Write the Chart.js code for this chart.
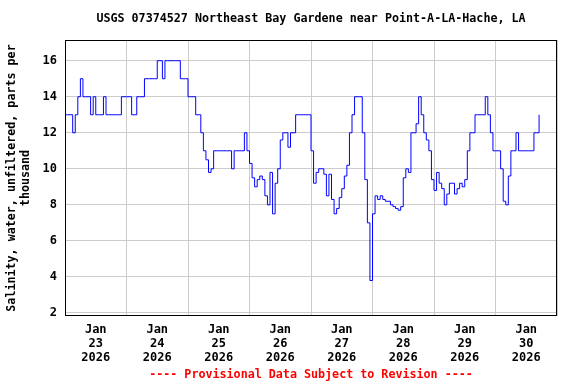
<!DOCTYPE html>
<html>
<head>
<meta charset="utf-8">
<script src="https://cdn.jsdelivr.net/npm/chart.js@4.4.1/dist/chart.umd.min.js"></script>
<style>
  html, body { margin: 0; padding: 0; background: #fff; }
  #wrap { width: 576px; height: 384px; }
</style>
</head>
<body>
<div id="wrap"><canvas id="salinityChart" width="576" height="384"></canvas></div>
<script>
// USGS 07374527 - salinity, hourly readings starting Jan 23 2026 00:00
const TITLE = 'USGS 07374527 Northeast Bay Gardene near Point-A-LA-Hache, LA';
const Y_TITLE = ['Salinity, water, unfiltered, parts per', 'thousand'];
const FOOTER = '---- Provisional Data Subject to Revision ----';

const DAY_MONTH = 'Jan';
const DAY_NUMBERS = ['23', '24', '25', '26', '27', '28', '29', '30'];
const DAY_YEAR = '2026';
const Y_TICKS = [2, 4, 6, 8, 10, 12, 14, 16];

const jan23 = [13, 13, 13, 12, 13, 14, 15, 14, 14, 14, 13, 14, 13, 13, 13, 14, 13, 13, 13, 13, 13, 13, 14, 14];
const jan24 = [14, 14, 13, 13, 14, 14, 14, 15, 15, 15, 15, 15, 16, 16, 15, 16, 16, 16, 16, 16, 16, 15, 15, 15];
const jan25 = [14, 14, 14, 13, 13, 12, 11, 10.5, 9.8, 10, 11, 11, 11, 11, 11, 11, 11, 10, 11, 11, 11, 11, 12, 11];
const jan26 = [10.3, 9.5, 9, 9.4, 9.6, 9.4, 8.5, 8, 9.8, 7.5, 9.2, 10, 11.6, 12, 12, 11.2, 12, 12, 13, 13, 13, 13, 13, 13];
const jan27 = [11, 9.2, 9.8, 10, 10, 9.7, 8.5, 9.7, 8.3, 7.5, 7.8, 8.4, 8.9, 9.6, 10.2, 12, 13, 14, 14, 14, 12, 9.4, 7, 3.8];
const jan28 = [7.5, 8.5, 8.3, 8.5, 8.3, 8.2, 8.2, 8, 7.9, 7.8, 7.7, 7.9, 9.5, 10, 9.8, 12, 12, 12.5, 14, 13, 12, 11.6, 11, 9.4];
const jan29 = [8.8, 9.8, 9.2, 8.9, 8, 8.6, 9.2, 9.2, 8.6, 8.9, 9.2, 9, 9.4, 11, 12, 12, 13, 13, 13, 13, 14, 13, 12, 11];
const jan30 = [11, 11, 10, 8.2, 8, 9.6, 11, 11, 12, 11, 11, 11, 11, 11, 11, 12, 12, 13];

const salinity = [].concat(jan23, jan24, jan25, jan26, jan27, jan28, jan29, jan30);

const FONT = 'DejaVu Sans Mono';

// frame, title, y-axis title and the provisional note
const decorations = {
  id: 'decorations',
  afterDraw(chart) {
    const { ctx, chartArea: a } = chart;
    ctx.save();
    ctx.strokeStyle = '#000';
    ctx.lineWidth = 1;
    ctx.strokeRect(a.left + 0.5, a.top + 0.5, a.right - a.left - 1, a.bottom - a.top - 1);

    const cx = (a.left + a.right) / 2;
    ctx.font = 'bold 11.7px "' + FONT + '"';
    ctx.textAlign = 'center';
    ctx.textBaseline = 'middle';
    ctx.fillStyle = '#000';
    ctx.fillText(TITLE, cx, 19);

    ctx.fillStyle = '#ff0000';
    ctx.fillText(FOOTER, cx, 375);

    ctx.fillStyle = '#000';
    ctx.translate(0, (a.top + a.bottom) / 2);
    ctx.rotate(-Math.PI / 2);
    ctx.fillText(Y_TITLE[0], 0, 12);
    ctx.fillText(Y_TITLE[1], 0, 26);
    ctx.restore();
  }
};

new Chart(document.getElementById('salinityChart'), {
  type: 'line',
  data: {
    datasets: [{
      data: salinity.map((v, i) => ({ x: i, y: v })),
      borderColor: '#0000ff',
      borderWidth: 1,
      pointRadius: 0,
      stepped: true,
      fill: false
    }]
  },
  options: {
    responsive: false,
    animation: false,
    layout: { padding: { left: 0, right: 19, top: 40, bottom: 0 } },
    plugins: { legend: { display: false }, tooltip: { enabled: false }, title: { display: false } },
    scales: {
      x: {
        type: 'linear',
        min: 0,
        max: DAY_NUMBERS.length * 24,
        afterFit: s => { s.height = 68; },
        afterBuildTicks: s => {
          s.ticks = [];
          for (let h = 0; h <= DAY_NUMBERS.length * 24; h += 12) s.ticks.push({ value: h });
        },
        grid: {
          drawTicks: false,
          lineWidth: 1,
          color: c => (c.tick && c.tick.value % 24 === 0) ? '#cccccc' : 'rgba(0,0,0,0)'
        },
        border: { display: false },
        ticks: {
          autoSkip: false,
          maxRotation: 0,
          padding: 7,
          color: '#000',
          font: { family: FONT, size: 12, weight: 'bold', lineHeight: 1.15 },
          callback: v => (v % 24 === 12) ? [DAY_MONTH, DAY_NUMBERS[(v - 12) / 24], DAY_YEAR] : ''
        }
      },
      y: {
        min: 1.83,
        max: 17.15,
        afterFit: s => { s.width = 65; },
        afterBuildTicks: s => { s.ticks = Y_TICKS.map(v => ({ value: v })); },
        grid: { drawTicks: false, color: '#cccccc', lineWidth: 1 },
        border: { display: false },
        ticks: {
          padding: 8,
          color: '#000',
          font: { family: FONT, size: 12, weight: 'bold' }
        }
      }
    }
  },
  plugins: [decorations]
});
</script>
</body>
</html>
